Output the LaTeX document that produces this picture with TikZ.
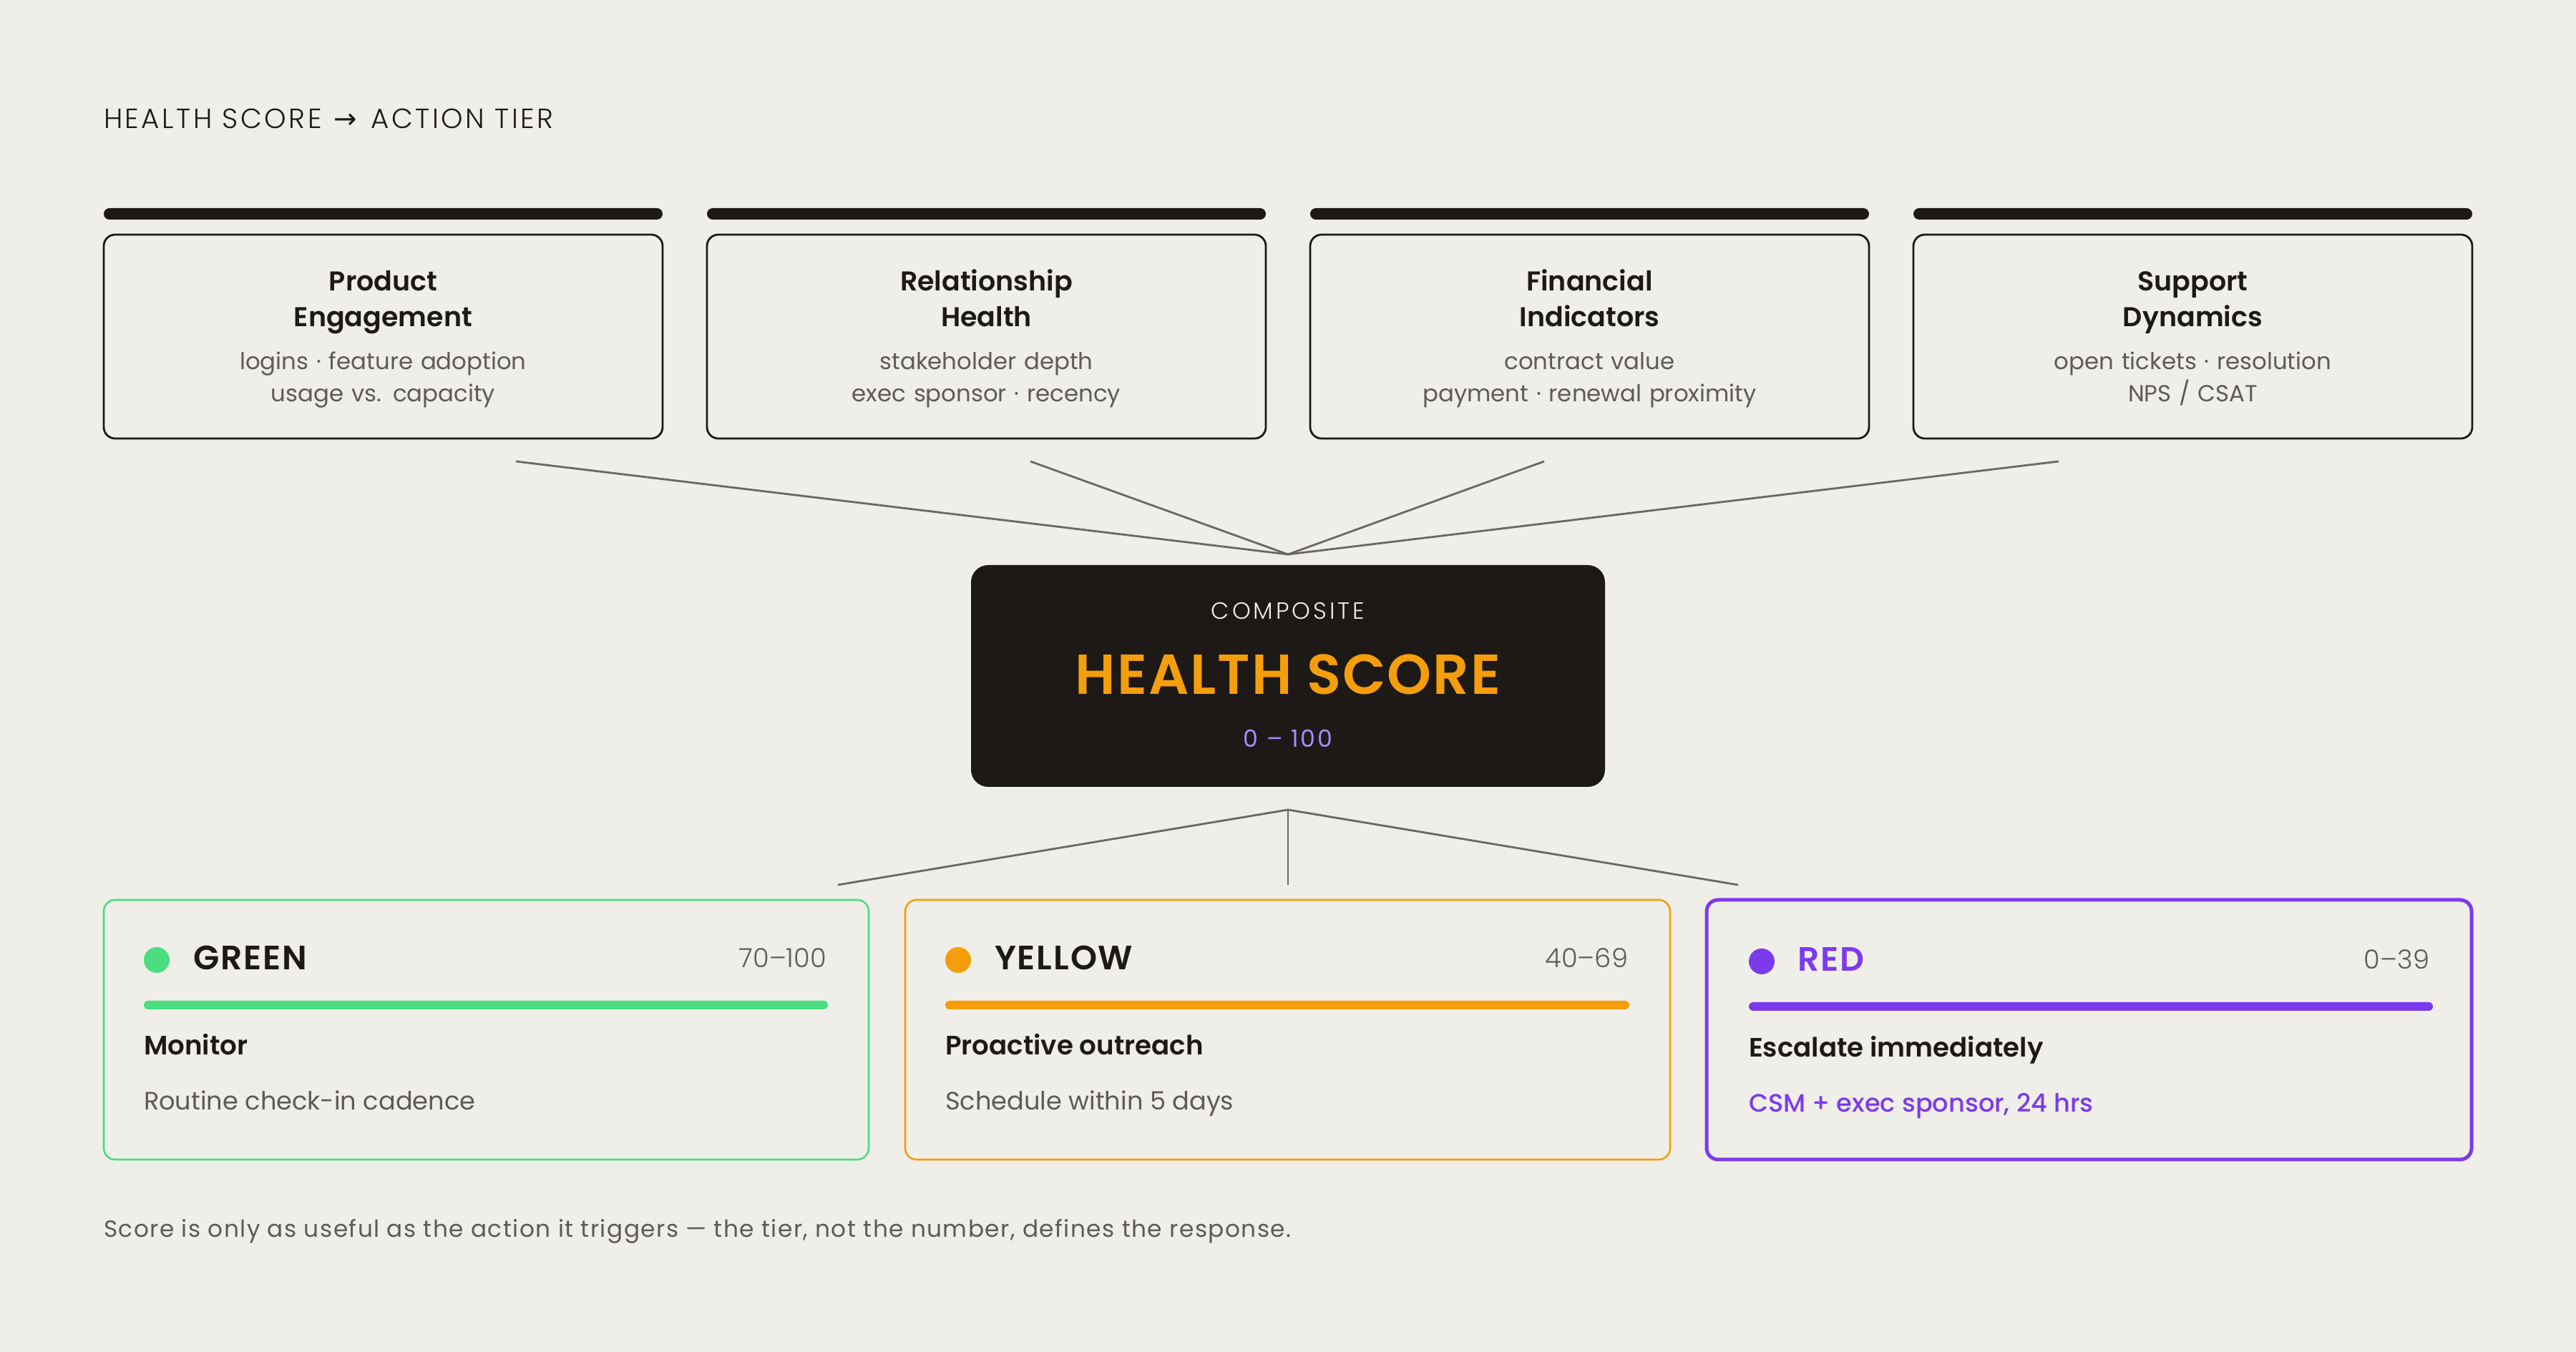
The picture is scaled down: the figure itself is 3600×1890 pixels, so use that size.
\documentclass[tikz,border=0pt]{standalone}
\usepackage{fontspec}
\setmainfont{Poppins}[BoldFont={Poppins SemiBold}]
\newfontfamily\mediumfont{Poppins Medium}
\newfontfamily\lightfont{Poppins Light}
\newfontfamily\symfont{DejaVu Sans}
\usepackage{tikz}
\usetikzlibrary{positioning}

\definecolor{paper}{HTML}{F0EEE9}
\definecolor{ink}{HTML}{1C1917}
\definecolor{muted}{HTML}{5E5A55}
\definecolor{wire}{HTML}{6B6864}
\definecolor{tiergreen}{HTML}{4ADE80}
\definecolor{tieryellow}{HTML}{F59E0B}
\definecolor{tierred}{HTML}{7C3AED}
\definecolor{lilac}{HTML}{A78BFA}

\begin{document}
\begin{tikzpicture}[x=0.25pt, y=-0.25pt, every node/.style={outer sep=0pt},
    factorbox/.style={rectangle, draw=ink, line width=0.7pt, rounded corners=4pt,
      minimum width=195.25pt, minimum height=71.25pt, inner sep=0pt},
    factorbar/.style={rectangle, fill=ink, rounded corners=2pt, minimum width=195.25pt,
      minimum height=4pt, inner sep=0pt},
    factorhead/.style={text width=190pt, align=center, inner sep=0pt, anchor=base,
      text=ink, font=\bfseries\fontsize{9.5}{12.5}\selectfont},
    factorsub/.style={text width=190pt, align=center, inner sep=0pt, anchor=base,
      text=muted, font=\fontsize{8.1}{11.25}\selectfont},
    scorebox/.style={rectangle, fill=ink, rounded corners=6pt, minimum width=221.5pt,
      minimum height=77.5pt, inner sep=0pt},
    tierbox/.style={rectangle, rounded corners=4pt, line width=0.65pt,
      minimum width=267.25pt, minimum height=90.75pt, inner sep=0pt},
    tierdot/.style={circle, minimum size=9pt, inner sep=0pt},
    tierbar/.style={rectangle, rounded corners=1.5pt, minimum width=239pt,
      minimum height=3pt, inner sep=0pt, anchor=west},
    tiername/.style={anchor=base west, inner sep=0pt,
      font=\bfseries\addfontfeatures{LetterSpace=4}\fontsize{11.8}{14}\selectfont},
    tierrange/.style={anchor=base east, inner sep=0pt, text=muted, font=\lightfont\fontsize{9.2}{11}\selectfont},
    tieraction/.style={anchor=base west, inner sep=0pt, text=ink, font=\bfseries\fontsize{9.3}{12}\selectfont},
    tierdetail/.style={anchor=base west, inner sep=0pt, text=muted, font=\fontsize{8.8}{12}\selectfont},
    wirelink/.style={draw=wire, line width=0.7pt},
  ]
    % Canvas
    \fill[paper] (0,0) rectangle (3600,1890);
    \useasboundingbox (0,0) rectangle (3600,1890);
    \node[anchor=base west, inner sep=0pt, text=ink,
      font=\lightfont\addfontfeatures{LetterSpace=9}\fontsize{9.7}{12}\selectfont] (title) at (145,180)
      {HEALTH SCORE\hspace{4.3pt}{\symfont →}\hspace{4.8pt}ACTION TIER};

    % Factor boxes
    \node[factorbox] (product) at (535.5,470.5) {};
    \node[factorbox, right=15.5pt of product] (relationship) {};
    \node[factorbox, right=15.5pt of relationship] (financial) {};
    \node[factorbox, right=15.5pt of financial] (support) {};
    \node[factorbar, above=5.25pt of product] (product-bar) {};
    \node[factorbar, above=5.25pt of relationship] (relationship-bar) {};
    \node[factorbar, above=5.25pt of financial] (financial-bar) {};
    \node[factorbar, above=5.25pt of support] (support-bar) {};

    \node[factorhead] (product-head) at ([shift={(0,79)}]product.north) {Product\\Engagement};
    \node[factorsub] (product-sub) at ([shift={(0,189)}]product.north) {logins · feature adoption\\usage vs. capacity};
    \node[factorhead] (relationship-head) at ([shift={(0,79)}]relationship.north) {Relationship\\Health};
    \node[factorsub] (relationship-sub) at ([shift={(0,189)}]relationship.north) {stakeholder depth\\exec sponsor · recency};
    \node[factorhead] (financial-head) at ([shift={(0,79)}]financial.north) {Financial\\Indicators};
    \node[factorsub] (financial-sub) at ([shift={(0,189)}]financial.north) {contract value\\payment · renewal proximity};
    \node[factorhead] (support-head) at ([shift={(0,79)}]support.north) {Support\\Dynamics};
    \node[factorsub] (support-sub) at ([shift={(0,189)}]support.north) {open tickets · resolution\\NPS / CSAT};

    % Composite score
    \node[scorebox] (score) at (1800,945) {};
    \node[anchor=base, inner sep=0pt, text=paper,
      font=\lightfont\addfontfeatures{LetterSpace=12}\fontsize{8.2}{10}\selectfont] (score-label)
      at ([shift={(0,76)}]score.north) {COMPOSITE};
    \node[anchor=base, inner sep=0pt, text=tieryellow,
      font=\bfseries\addfontfeatures{LetterSpace=2.5}\fontsize{19.7}{22}\selectfont] (score-name)
      at ([shift={(0,181)}]score.north) {HEALTH SCORE};
    \node[anchor=base, inner sep=0pt, text=lilac,
      font=\addfontfeatures{LetterSpace=9}\fontsize{8.3}{10}\selectfont] (score-range)
      at ([shift={(0,255)}]score.north) {0 – 100};

    % Tier cards
    \node[tierbox, draw=tiergreen] (green) at (679.5,1439.5) {};
    \node[tierbox, draw=tieryellow, right=12.75pt of green] (yellow) {};
    \node[tierbox, draw=tierred, line width=1.25pt, right=12.75pt of yellow] (red) {};

    \node[tierdot, fill=tiergreen] (green-dot) at ([shift={(74,84)}]green.north west) {};
    \node[tiername, text=ink] (green-name) at ([shift={(125,98)}]green.north west) {GREEN};
    \node[tierrange] (green-range) at ([shift={(-59,95)}]green.north east) {70–100};
    \node[tierbar, fill=tiergreen] (green-bar) at ([shift={(56,147)}]green.north west) {};
    \node[tieraction] (green-action) at ([shift={(56,217)}]green.north west) {Monitor};
    \node[tierdetail] (green-detail) at ([shift={(56,294)}]green.north west) {Routine check-in cadence};

    \node[tierdot, fill=tieryellow] (yellow-dot) at ([shift={(74,84)}]yellow.north west) {};
    \node[tiername, text=ink] (yellow-name) at ([shift={(125,98)}]yellow.north west) {YELLOW};
    \node[tierrange] (yellow-range) at ([shift={(-59,95)}]yellow.north east) {40–69};
    \node[tierbar, fill=tieryellow] (yellow-bar) at ([shift={(56,147)}]yellow.north west) {};
    \node[tieraction] (yellow-action) at ([shift={(56,217)}]yellow.north west) {Proactive outreach};
    \node[tierdetail] (yellow-detail) at ([shift={(56,294)}]yellow.north west) {Schedule within 5 days};

    \node[tierdot, fill=tierred] (red-dot) at ([shift={(77,86)}]red.north west) {};
    \node[tiername, text=tierred] (red-name) at ([shift={(127,100)}]red.north west) {RED};
    \node[tierrange] (red-range) at ([shift={(-59,97)}]red.north east) {0–39};
    \node[tierbar, fill=tierred] (red-bar) at ([shift={(59,149)}]red.north west) {};
    \node[tieraction] (red-action) at ([shift={(59,220)}]red.north west) {Escalate immediately};
    \node[tierdetail, text=tierred, font=\mediumfont\fontsize{8.8}{12}\selectfont] (red-detail)
      at ([shift={(59,297)}]red.north west) {CSM + exec sponsor, 24 hrs};

    % Wires
    \coordinate (product-out) at (721,645); \coordinate (relationship-out) at (1440,645);
    \coordinate (financial-out) at (2158,645); \coordinate (support-out) at (2877,645);
    \coordinate (score-in) at ([shift={(0,-15)}]score.north);
    \coordinate (score-out) at ([shift={(0,32)}]score.south);
    \coordinate (green-in) at (1171,1237); \coordinate (yellow-in) at (1800,1237);
    \coordinate (red-in) at (2429,1237);
    \draw[wirelink] (product-out) -- (score-in); \draw[wirelink] (relationship-out) -- (score-in);
    \draw[wirelink] (financial-out) -- (score-in); \draw[wirelink] (support-out) -- (score-in);
    \draw[wirelink] (score-out) -- (green-in); \draw[wirelink] (score-out) -- (yellow-in);
    \draw[wirelink] (score-out) -- (red-in);

    % Footnote
    \node[anchor=base west, inner sep=0pt, text=muted,
      font=\addfontfeatures{LetterSpace=4.5}\fontsize{8.2}{10}\selectfont] (footnote) at (145,1730)
      {Score is only as useful as the action it triggers — the tier, not the number, defines the response.};
\end{tikzpicture}
\end{document}
